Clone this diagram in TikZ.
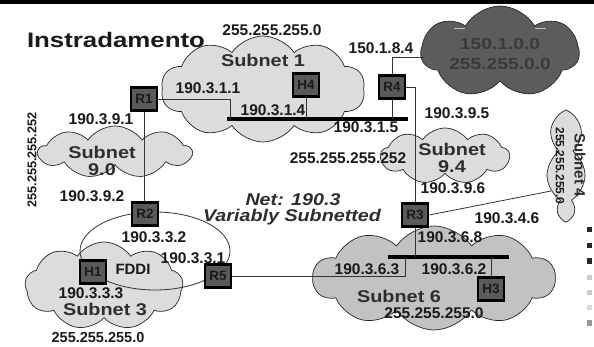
\documentclass[tikz,border=0pt]{standalone}
\usepackage{fontspec}
\setmainfont{Liberation Sans}
\usetikzlibrary{shapes.symbols}
\definecolor{lightcloud}{HTML}{DCDCDC}
\definecolor{midcloud}{HTML}{C2C2C2}
\definecolor{darkcloud}{HTML}{5C5C5C}
\definecolor{darkcloudtext}{HTML}{3A3A3A}
\definecolor{boxfill}{HTML}{5A5A5A}
\definecolor{ink}{HTML}{1A1A1A}
\definecolor{softink}{HTML}{2E2E2E}
\pgfdeclarelayer{back}
\pgfdeclarelayer{mid}
\pgfsetlayers{back,mid,main}
\begin{document}
\begin{tikzpicture}[x=1pt,y=-1pt,
  netcloud/.style={cloud, cloud ignores aspect, draw=black!85, line width=0.7pt, inner sep=0pt},
  devbox/.style={draw=black, line width=2.6pt, fill=boxfill, minimum width=26pt, minimum height=23pt,
                 inner sep=0pt, font=\fontsize{13.5}{14}\selectfont\bfseries, text=ink},
  wire/.style={draw=black!80, line width=0.8pt},
  bus/.style={draw=black, line width=3.4pt},
  ip/.style={font=\fontsize{15.5}{17}\selectfont\bfseries, text=ink, inner sep=0pt},
  sublbl/.style={font=\fontsize{17}{19}\selectfont\bfseries, text=softink, inner sep=0pt, xscale=1.17, transform shape},
  bigtitle/.style={font=\fontsize{21}{24}\selectfont\bfseries, text=ink, inner sep=0pt, xscale=1.23, transform shape},
  netnote/.style={font=\fontsize{17}{19}\selectfont\bfseries\itshape, text=softink, inner sep=0pt, xscale=1.16, transform shape},
  edgemark/.style={fill=#1, draw=none}
]
\useasboundingbox (0,0) rectangle (594,347);

% ---------- clouds ----------
\begin{pgfonlayer}{back}
\fill[white] (0,0) rectangle (594,347);
\fill[black] (0,0) rectangle (594,4);
\node[netcloud, fill=lightcloud, cloud puffs=10, cloud puff arc=112, minimum width=204pt, minimum height=106pt] (s1) at (263,89) {};
\node[netcloud, fill=darkcloud, cloud puffs=7, cloud puff arc=120, minimum width=158pt, minimum height=92pt] (c150) at (500,52) {};
\node[netcloud, fill=lightcloud, cloud puffs=9, cloud puff arc=110, minimum width=153pt, minimum height=52pt] (s90) at (115,152) {};
\node[netcloud, fill=lightcloud, cloud puffs=9, cloud puff arc=110, minimum width=129pt, minimum height=56pt] (s94) at (445,156) {};
\node[netcloud, fill=lightcloud, cloud puffs=7, cloud puff arc=110, minimum width=39pt, minimum height=108pt] (s4) at (566,164) {};
\node[netcloud, fill=lightcloud, cloud puffs=9, cloud puff arc=112, minimum width=158pt, minimum height=88pt] (s3) at (104,286) {};
\node[netcloud, fill=midcloud, cloud puffs=10, cloud puff arc=112, minimum width=242pt, minimum height=104pt] (s6) at (434,278) {};
% light seams on the top of the dark cloud
\draw[black!25, line width=1pt] (454,29) -- (465,29);
\draw[black!25, line width=1pt] (535,29) -- (546,29);
\end{pgfonlayer}

% ---------- routers and hosts ----------
\node[devbox] (R1) at (144,99) {R1};
\node[devbox] (R2) at (145,214) {R2};
\node[devbox] (R3) at (415,215) {R3};
\node[devbox] (R4) at (392,87) {R4};
\node[devbox] (R5) at (218,276) {R5};
\node[devbox] (H1) at (93,272) {H1};
\node[devbox] (H3) at (491,289) {H3};
\node[devbox] (H4) at (306,85) {H4};

% ---------- bus end points and taps ----------
\coordinate (bus1L) at (227,119);
\coordinate (bus1R) at (408,119);
\coordinate (tapR1) at (230,119);
\coordinate (bus6L) at (388,257);
\coordinate (bus6R) at (509,257);
\coordinate (tapR5) at (405,257);
\coordinate (tapH3) at (491,257);
\coordinate (s4in) at (551,191);
\coordinate (c150in) at (424,57);

\begin{pgfonlayer}{mid}
% FDDI ring
\draw[wire] (155,251) ellipse [x radius=75pt, y radius=39pt];
% Ethernet segments
\draw[bus] (bus1L) -- (bus1R);
\draw[bus] (bus6L) -- (bus6R);
% links
\draw[wire] (R1.east) -| (tapR1);
\draw[wire] (H4.south) -- (H4.south |- bus1L);
\draw[wire] (R4.south) -- (R4.south |- bus1L);
\draw[wire] (R4.north) |- (c150in);
\draw[wire] (R4.east) -| (R3.north);
\draw[wire] (R1.south) -- (R1.south |- R2.north);
\draw[wire] (R3.east) -- (s4in);
\draw[wire] (R3.south) -- (R3.south |- bus6L);
\draw[wire] (tapR5) |- (R5.east);
\draw[wire] (tapH3) -- (H3.north);
\end{pgfonlayer}

% ---------- texts ----------
\node[bigtitle] (title) at (116,40) {Instradamento};
\node[ip] (m1) at (272,30) {255.255.255.0};
\node[sublbl] (t1) at (263,60) {Subnet 1};
\node[ip] (a111) at (208,88) {190.3.1.1};
\node[ip] (a114) at (273,110) {190.3.1.4};
\node[ip] (a115) at (366,127) {190.3.1.5};
\node[ip] (a1584) at (381,48) {150.1.8.4};
\node[font=\fontsize{16}{18}\selectfont\bfseries, text=darkcloudtext, inner sep=0pt, xscale=1.2, transform shape] (n150) at (500,44) {150.1.0.0};
\node[font=\fontsize{16}{18}\selectfont\bfseries, text=darkcloudtext, inner sep=0pt, xscale=1.2, transform shape] (m150) at (500,64) {255.255.0.0};
\node[ip] (a195) at (457,113) {190.3.9.5};
\node[ip] (m94) at (348,158) {255.255.255.252};
\node[sublbl] (t94a) at (452,149) {Subnet};
\node[sublbl] (t94b) at (452,167) {9.4};
\node[ip] (a196) at (453,188) {190.3.9.6};
\node[font=\fontsize{15}{17}\selectfont\bfseries, text=softink, inner sep=0pt, rotate=-90] (t4) at (580,165) {Subnet 4};
\node[font=\fontsize{12}{14}\selectfont\bfseries, text=ink, inner sep=0pt, rotate=-90] (m4) at (560,166) {255.255.255.0};
\node[ip] (a346) at (507,218) {190.3.4.6};
\node[ip] (a368) at (450,237) {190.3.6.8};
\node[ip] (a363) at (367,269) {190.3.6.3};
\node[ip] (a362) at (454,269) {190.3.6.2};
\node[sublbl] (t6) at (399,296) {Subnet 6};
\node[ip] (m6) at (434,313) {255.255.255.0};
\node[font=\fontsize{12.7}{14}\selectfont\bfseries, text=ink, inner sep=0pt, rotate=90] (m90) at (32,160) {255.255.255.252};
\node[ip] (a191) at (101,119) {190.3.9.1};
\node[sublbl] (t90a) at (102,152) {Subnet};
\node[sublbl] (t90b) at (102,170) {9.0};
\node[ip] (a192) at (92,196) {190.3.9.2};
\node[netnote] (net1) at (293,200) {Net: 190.3};
\node[netnote, anchor=base] (net2) at (292,222) {Variably Subnetted};
\node[ip] (a332) at (154,237) {190.3.3.2};
\node[ip] (a331) at (193,258) {190.3.3.1};
\node[font=\fontsize{15}{17}\selectfont\bfseries, text=ink, inner sep=0pt] (fddi) at (133,269) {FDDI};
\node[ip] (a333) at (91,293) {190.3.3.3};
\node[sublbl] (t3) at (105,309) {Subnet 3};
\node[font=\fontsize{14.5}{16}\selectfont\bfseries, text=ink, inner sep=0pt] (m3) at (98,338) {255.255.255.0};

% ---------- marks along the right edge ----------
\fill[edgemark=black!85] (587,227) rectangle (592,232);
\fill[edgemark=black!85] (587,243) rectangle (592,248);
\fill[edgemark=black!85] (587,258) rectangle (592,264);
\fill[edgemark=black!20] (587,275) rectangle (592,280);
\fill[edgemark=black!20] (587,290) rectangle (592,295);
\fill[edgemark=black!15] (587,305) rectangle (592,310);
\fill[edgemark=black!40] (587,320) rectangle (592,326);
\end{tikzpicture}
\end{document}
